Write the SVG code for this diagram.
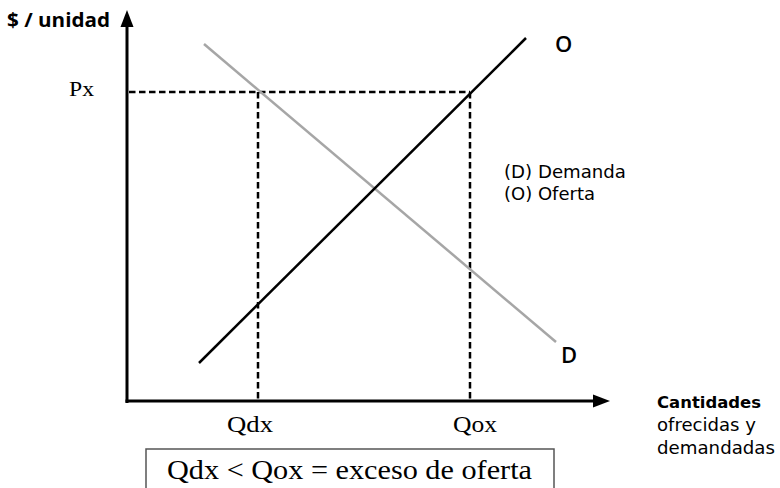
<svg xmlns="http://www.w3.org/2000/svg" width="780" height="488" viewBox="0 0 780 488">
<style>
.axis{stroke:#000;stroke-width:3;fill:none}
.dash{stroke:#000;stroke-width:2.5;stroke-dasharray:6.5 3.5;fill:none}
.sans{font-family:"Open Sans","Noto Sans","DejaVu Sans",sans-serif;fill:#000}
.wide{font-family:"DejaVu Sans","Open Sans",sans-serif;fill:#000}
.serif{font-family:"Liberation Serif","Times New Roman",serif;fill:#000}
</style>
<rect width="780" height="488" fill="#fff"/>
<g id="connectors">
<line class="axis" x1="127" y1="403" x2="127" y2="24"/>
<polygon points="127,10 120.5,27 133.5,27" fill="#000"/>
<line class="axis" x1="125.5" y1="401" x2="596" y2="401"/>
<polygon points="610,401 593,394.5 593,407.5" fill="#000"/>
<line class="dash" x1="129" y1="92" x2="470" y2="92"/>
<line class="dash" x1="258" y1="92" x2="258" y2="400"/>
<line class="dash" x1="470" y1="92" x2="470" y2="400"/>
<line id="demanda" x1="204" y1="44" x2="556" y2="342" stroke="#a6a6a6" stroke-width="2.5"/>
<line id="oferta" x1="199" y1="363" x2="526" y2="38" stroke="#000" stroke-width="2.5"/>
</g>
<g id="label-eje-y"><text class="sans" x="7" y="27" font-size="19.5" font-weight="700" textLength="103" lengthAdjust="spacingAndGlyphs">$ / unidad</text></g>
<g id="label-px"><text class="serif" x="69" y="96" font-size="22" textLength="25" lengthAdjust="spacingAndGlyphs">Px</text></g>
<g id="label-O"><text class="sans" x="555" y="52" font-size="22" font-weight="600">O</text></g>
<g id="label-D"><text class="sans" x="561" y="363" font-size="22" font-weight="600">D</text></g>
<g id="leyenda">
<text class="wide" x="504" y="178" font-size="18" textLength="122" lengthAdjust="spacingAndGlyphs">(D) Demanda</text>
<text class="wide" x="504" y="200" font-size="18" textLength="91" lengthAdjust="spacingAndGlyphs">(O) Oferta</text>
</g>
<g id="label-eje-x">
<text class="wide" x="657" y="408" font-size="16.5" font-weight="700" textLength="104" lengthAdjust="spacingAndGlyphs">Cantidades</text>
<text class="wide" x="657" y="431" font-size="18" textLength="99" lengthAdjust="spacingAndGlyphs">ofrecidas y</text>
<text class="wide" x="657" y="454" font-size="18" textLength="118" lengthAdjust="spacingAndGlyphs">demandadas</text>
</g>
<g id="label-qdx"><text class="serif" x="227" y="432" font-size="23" textLength="46" lengthAdjust="spacingAndGlyphs">Qdx</text></g>
<g id="label-qox"><text class="serif" x="453" y="432" font-size="23" textLength="44" lengthAdjust="spacingAndGlyphs">Qox</text></g>
<g id="nota">
<rect x="146" y="449" width="408" height="50" fill="none" stroke="#555" stroke-width="1.5"/>
<text class="serif" x="167" y="479" font-size="28" textLength="365" lengthAdjust="spacingAndGlyphs">Qdx &lt; Qox = exceso de oferta</text>
</g>
</svg>
